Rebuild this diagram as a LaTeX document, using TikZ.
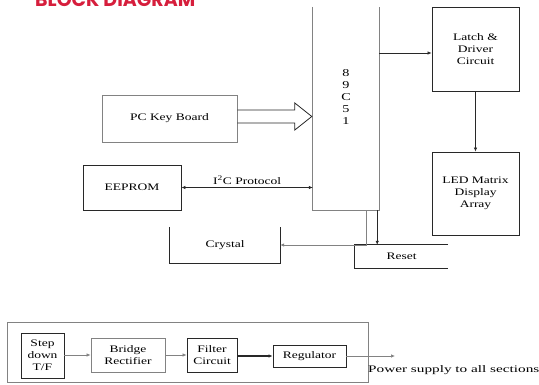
\documentclass[tikz,border=0pt]{standalone}
\usepackage{fontspec}
\setmainfont[FakeStretch=1.35]{Liberation Serif}
\newfontfamily\titlefont{Poppins}
\usetikzlibrary{calc,arrows.meta}
\definecolor{titlered}{RGB}{214,30,60}
\definecolor{lineA}{RGB}{40,40,40}
\definecolor{lineB}{RGB}{130,130,130}
\tikzset{
  blk/.style={draw=lineA, line width=0.8pt, inner sep=1pt, align=center, font=\fontsize{10}{12}\selectfont},
  blkg/.style={blk, draw=lineB},
  plain/.style={inner sep=0pt, align=center, font=\fontsize{10}{12}\selectfont},
  conn/.style={draw=lineA, line width=0.7pt, -{Latex[length=4pt,width=3.5pt]}},
  open/.style={draw=lineB, line width=0.9pt}
}
\begin{document}
\begin{tikzpicture}[x=1pt,y=-1pt]
\useasboundingbox (0,0) rectangle (539,385);
\clip (0,0) rectangle (539,385);
% title
\node[anchor=base west, inner sep=0pt, text=titlered] (title) at (35,6.5)
  {\resizebox{160pt}{!}{\titlefont\bfseries BLOCK DIAGRAM}};
% 89C51
\node[minimum width=66pt, minimum height=203pt, inner sep=0pt] (mcu) at (346,108.5) {};
\draw[open] (mcu.north west) -- (mcu.south west) -- (mcu.south east) -- (mcu.north east);
\node[plain, font=\fontsize{10.5}{12.2}\selectfont] (mcut) at (346,97) {8\\9\\C\\5\\1};
% right blocks
\node[blk, minimum width=87pt, minimum height=84pt] (latch) at (475.5,49) {Latch \&\\Driver\\Circuit};
\node[blk, minimum width=87pt, minimum height=83pt] (led) at (475.5,193.5) {LED Matrix\\Display\\Array};
% left blocks
\node[blkg, minimum width=135pt, minimum height=47pt] (kb) at (169.5,118.5) {PC Key Board};
\node[blk, minimum width=98pt, minimum height=45pt] (eeprom) at (132,187.5) {EEPROM};
% crystal (open top)
\node[plain, minimum width=110pt, minimum height=36pt] (crystal) at (225,245) {Crystal};
\draw[draw=lineA, line width=0.8pt] (crystal.north west) -- (crystal.south west) -- (crystal.south east) -- (crystal.north east);
% reset (open right)
\node[plain, minimum width=93pt, minimum height=23pt] (reset) at (401.5,256.5) {Reset};
\draw[draw=lineA, line width=0.8pt] (reset.north east) -- (reset.north west) -- (reset.south west) -- (reset.south east);
% connectors
\coordinate (y53) at (0,53);
\draw[conn] (mcu.east |- y53) -- (latch.west |- y53);
\draw[conn] (latch.south) -- (led.north);
\draw[draw=lineA, line width=0.7pt, {Latex[length=4pt,width=3.5pt]}-{Latex[length=4pt,width=3.5pt]}] (eeprom.east) -- (mcu.west |- eeprom.east)
  node[midway, above=3pt, plain] (i2c) {I\textsuperscript{2}C Protocol};
\draw[conn, draw=lineB] ([xshift=-13pt]mcu.south east) |- (crystal.east);
\draw[conn] ([xshift=-2pt]mcu.south east) -- ([xshift=-2pt]mcu.south east |- reset.north);
% hollow arrow
\coordinate (ha) at (kb.east);
\coordinate (hb) at (mcu.west |- kb.east);
\draw[draw=lineA, line width=0.8pt, line join=miter]
  ($(ha)+(0,-8.5)$) -- ($(hb)+(-18,-8.5)$) -- ($(hb)+(-18,-15.5)$) -- ($(hb)+(-1,-2)$)
  -- ($(hb)+(-18,11.5)$) -- ($(hb)+(-18,4.5)$) -- ($(ha)+(0,4.5)$);
% power supply
\node[draw=lineB, line width=0.8pt, minimum width=361pt, minimum height=60pt, inner sep=0pt] (psu) at (187.5,352) {};
\node[blk, minimum width=43pt, minimum height=45pt] (step) at (42.5,355.5) {Step\\down\\T/F};
\node[blkg, minimum width=74pt, minimum height=34pt] (bridge) at (128,355) {Bridge\\Rectifier};
\node[blk, minimum width=50pt, minimum height=34pt] (filter) at (212,355) {Filter\\Circuit};
\node[blk, minimum width=73pt, minimum height=22pt] (reg) at (309.5,356) {Regulator};
\coordinate (outend) at (395,356);
\draw[conn, draw=lineB] (step.east |- bridge.west) -- (bridge.west);
\draw[conn, draw=lineB] (bridge.east) -- (filter.west);
\draw[conn, line width=1.1pt] (filter.east |- reg.west) -- (reg.west);
\draw[conn, draw=lineB] (reg.east) -- (outend);
\node[plain, anchor=west] (pwr) at (368,370) {\scalebox{1.13}[1]{Power supply to all sections}};
\end{tikzpicture}
\end{document}
